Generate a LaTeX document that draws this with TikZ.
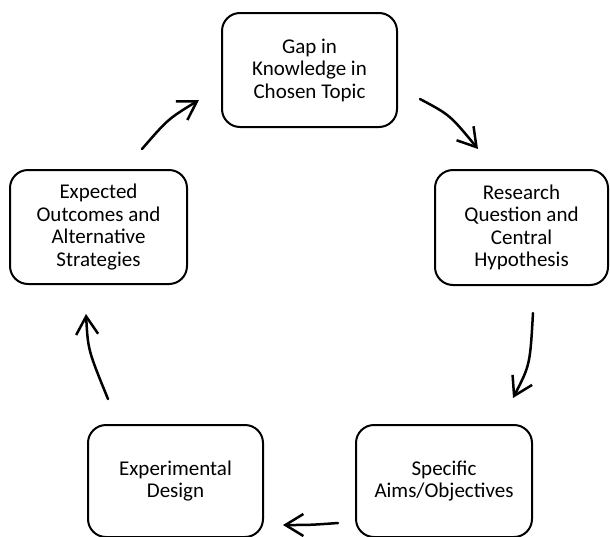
\documentclass[tikz,border=0pt]{standalone}
\usepackage{fontspec}
\setmainfont{Carlito}
\usetikzlibrary{arrows.meta}
\begin{document}
\begin{tikzpicture}[x=1pt,y=-1pt,
  stagebox/.style={draw=black, line width=2pt, rounded corners=18pt, align=center,
    inner sep=2pt, font=\fontsize{21pt}{22.5pt}\selectfont},
  cyclearrow/.style={line width=2.5pt, line cap=round,
    -{Straight Barb[length=18pt,width=22pt,line width=2.5pt]}}]
\useasboundingbox (0,0) rectangle (610,536);
\node[stagebox, minimum width=175pt, minimum height=114pt] (gap) at (309.5,70)
  {Gap in\\Knowledge in\\Chosen Topic};
\node[stagebox, minimum width=173pt, minimum height=115pt] (rq) at (521.5,227.5)
  {Research\\Question and\\Central\\Hypothesis};
\node[stagebox, minimum width=176pt, minimum height=112pt] (aims) at (444,481)
  {Specific\\Aims/Objectives};
\node[stagebox, minimum width=175pt, minimum height=112pt] (design) at (175.5,481)
  {Experimental\\Design};
\node[stagebox, minimum width=177pt, minimum height=114pt] (outcomes) at (98.5,227)
  {Expected\\Outcomes and\\Alternative\\Strategies};
\coordinate (a1s) at (142,149); \coordinate (a1e) at (199,100);
\coordinate (a2s) at (420,99);  \coordinate (a2e) at (478,149);
\coordinate (a3s) at (533,313); \coordinate (a3e) at (513,398);
\coordinate (a4s) at (338,523); \coordinate (a4e) at (283,525);
\coordinate (a5s) at (108,399); \coordinate (a5e) at (86,314);
\draw[cyclearrow] (a1s) .. controls (168,119) .. (a1e);
\draw[cyclearrow] (a2s) .. controls (450,115) .. (a2e);
\draw[cyclearrow] (a3s) .. controls (530,365) .. (a3e);
\draw[cyclearrow] (a4s) .. controls (310,525) .. (a4e);
\draw[cyclearrow] (a5s) .. controls (88,350) .. (a5e);
\end{tikzpicture}
\end{document}
